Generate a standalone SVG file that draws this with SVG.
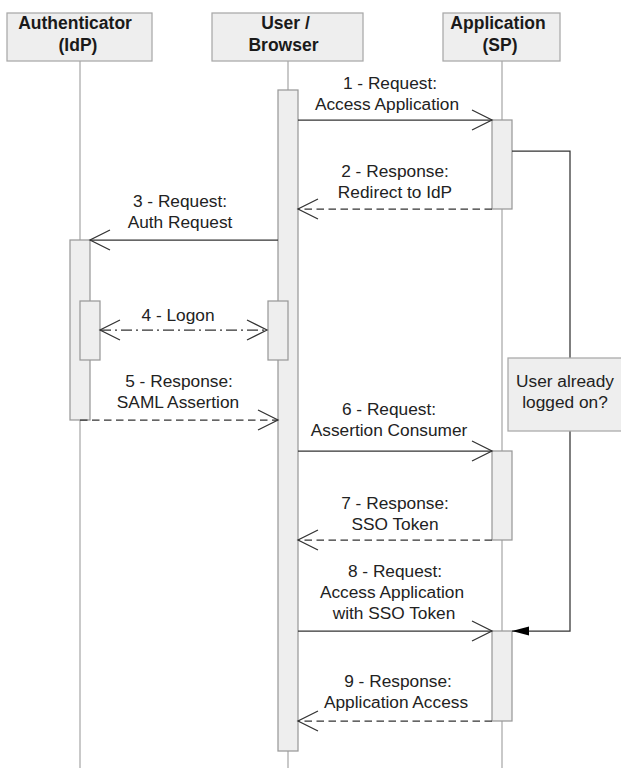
<svg xmlns="http://www.w3.org/2000/svg" width="621" height="768" viewBox="0 0 621 768">
<style>
.hdr{fill:#eeeeee;stroke:#a8a8a8;stroke-width:1.25}
.life{stroke:#a8a8a8;stroke-width:1.25;fill:none}
.bar{fill:#eeeeee;stroke:#999999;stroke-width:1.25}
.msg{stroke:#333333;stroke-width:1.25;fill:none}
.dash{stroke-dasharray:7.5 4.5}
.dashdot{stroke-dasharray:11 4 2 4}
.ht{font-family:"Liberation Sans",Arial,sans-serif;font-size:17.5px;font-weight:bold;fill:#1a1a1a;text-anchor:middle}
.lt{font-family:"Liberation Sans",Arial,sans-serif;font-size:17.3px;fill:#222222;text-anchor:middle}
</style>
<defs>
<marker id="open" markerUnits="userSpaceOnUse" markerWidth="26" markerHeight="26" viewBox="-23 -13 26 26" refX="0" refY="0" orient="auto-start-reverse">
<path d="M-20,-10 L0,0 L-20,10" fill="none" stroke="#333333" stroke-width="1.25" stroke-dasharray="none"/>
</marker>
<marker id="filled" markerUnits="userSpaceOnUse" markerWidth="22" markerHeight="14" viewBox="-19 -7 22 14" refX="0" refY="0" orient="auto">
<path d="M-17,-4.5 L0,0 L-17,4.5 Z" fill="#000000" stroke="none"/>
</marker>
</defs>
<rect width="621" height="768" fill="#ffffff"/>

<g id="lifelines">
<line class="life" x1="80" y1="61" x2="80" y2="768"/>
<line class="life" x1="288" y1="61" x2="288" y2="768"/>
<line class="life" x1="502" y1="61" x2="502" y2="768"/>
</g>

<g id="authenticator">
<rect class="hdr" x="7" y="13" width="145" height="48"/>
<text class="ht" x="75" y="29">Authenticator</text>
<text class="ht" x="78" y="50.5">(IdP)</text>
<rect class="bar" x="70" y="240" width="20" height="180"/>
<rect class="bar" x="80" y="301" width="20" height="59"/>
</g>

<g id="user-browser">
<rect class="hdr" x="212" y="13" width="151" height="48"/>
<text class="ht" x="285.5" y="29">User /</text>
<text class="ht" x="283.5" y="50.5">Browser</text>
<rect class="bar" x="278" y="90" width="20" height="661"/>
<rect class="bar" x="268" y="301" width="20" height="59"/>
</g>

<g id="application">
<rect class="hdr" x="443" y="13" width="117" height="48"/>
<text class="ht" x="498" y="29">Application</text>
<text class="ht" x="500" y="50.5">(SP)</text>
<rect class="bar" x="492" y="120" width="20" height="89"/>
<rect class="bar" x="492" y="451" width="20" height="89"/>
<rect class="bar" x="492" y="631" width="20" height="90"/>
</g>

<g id="connectors">
<line class="msg" x1="298" y1="120" x2="492" y2="120" marker-end="url(#open)"/>
<line class="msg dash" x1="492" y1="209" x2="298" y2="209" marker-end="url(#open)"/>
<line class="msg" x1="278" y1="240" x2="90" y2="240" marker-end="url(#open)"/>
<line class="msg dashdot" x1="100" y1="330" x2="267" y2="330" marker-start="url(#open)" marker-end="url(#open)"/>
<line class="msg dash" x1="80" y1="420" x2="278" y2="420" marker-end="url(#open)"/>
<line class="msg" x1="298" y1="451" x2="492" y2="451" marker-end="url(#open)"/>
<line class="msg dash" x1="492" y1="540" x2="298" y2="540" marker-end="url(#open)"/>
<line class="msg" x1="298" y1="631" x2="492" y2="631" marker-end="url(#open)"/>
<line class="msg dash" x1="492" y1="721" x2="298" y2="721" marker-end="url(#open)"/>
<path class="msg" d="M512,151 H570 V631 H512" marker-end="url(#filled)"/>
</g>

<g id="labels">
<text class="lt" x="390" y="89">1 - Request:</text>
<text class="lt" x="387" y="110">Access Application</text>
<text class="lt" x="395" y="177">2 - Response:</text>
<text class="lt" x="395" y="198">Redirect to IdP</text>
<text class="lt" x="180" y="207">3 - Request:</text>
<text class="lt" x="180" y="228">Auth Request</text>
<text class="lt" x="178" y="321">4 - Logon</text>
<text class="lt" x="179" y="387">5 - Response:</text>
<text class="lt" x="178" y="408">SAML Assertion</text>
<text class="lt" x="389" y="415">6 - Request:</text>
<text class="lt" x="389" y="436">Assertion Consumer</text>
<text class="lt" x="395" y="509">7 - Response:</text>
<text class="lt" x="395" y="530">SSO Token</text>
<text class="lt" x="395" y="577">8 - Request:</text>
<text class="lt" x="392" y="598">Access Application</text>
<text class="lt" x="394" y="619">with SSO Token</text>
<text class="lt" x="398" y="687">9 - Response:</text>
<text class="lt" x="396" y="708">Application Access</text>
</g>

<g id="note">
<rect class="hdr" x="508" y="358" width="115" height="73"/>
<text class="lt" x="565" y="387">User already</text>
<text class="lt" x="565" y="408">logged on?</text>
</g>
</svg>
